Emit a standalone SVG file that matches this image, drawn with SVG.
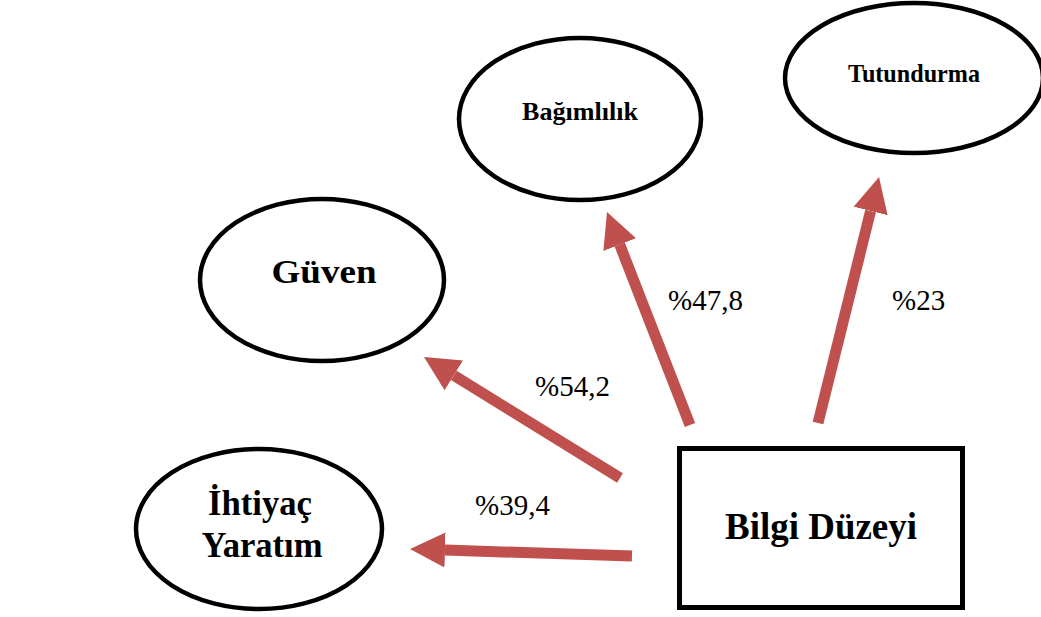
<svg xmlns="http://www.w3.org/2000/svg" width="1041" height="617" viewBox="0 0 1041 617">
<style>
.node{fill:none;stroke:#000;stroke-width:4.5}
.lbl{font-family:"Liberation Serif","Times New Roman","DejaVu Serif",serif;font-weight:bold;fill:#000;text-anchor:middle}
.pct{font-family:"Liberation Serif","Times New Roman","DejaVu Serif",serif;font-size:29px;fill:#000}
.arrow{stroke:#C0504D;stroke-width:11;fill:none;stroke-linecap:butt;marker-end:url(#head)}
</style>
<defs>
<marker id="head" markerUnits="userSpaceOnUse" viewBox="0 -18 36 36" markerWidth="36" markerHeight="36" refX="0" refY="0" orient="auto">
<path d="M0,-17.5 L35,0 L0,17.5 z" fill="#C0504D"/>
</marker>
</defs>
<rect width="1041" height="617" fill="#fff"/>
<g id="connectors">
<line class="arrow" x1="620" y1="478" x2="453.8" y2="375.4"/>
<line class="arrow" x1="632" y1="556" x2="445" y2="550.1"/>
<line class="arrow" x1="690" y1="425" x2="619.7" y2="244.6"/>
<line class="arrow" x1="818" y1="423" x2="870.6" y2="211"/>
<text class="pct" x="668" y="310">%47,8</text>
<text class="pct" x="892" y="310">%23</text>
<text class="pct" x="535" y="396">%54,2</text>
<text class="pct" x="475" y="515">%39,4</text>
</g>
<g id="bagimlilik">
<ellipse class="node" cx="580" cy="119" rx="121" ry="81"/>
<text class="lbl" x="580" y="120" font-size="26" textLength="116" lengthAdjust="spacingAndGlyphs">Bağımlılık</text>
</g>
<g id="tutundurma">
<ellipse class="node" cx="914" cy="78" rx="129" ry="75"/>
<text class="lbl" x="914" y="82" font-size="25" textLength="132" lengthAdjust="spacingAndGlyphs">Tutundurma</text>
</g>
<g id="guven">
<ellipse class="node" cx="322" cy="280" rx="122" ry="81"/>
<text class="lbl" x="324" y="283" font-size="33" textLength="105" lengthAdjust="spacingAndGlyphs">Güven</text>
</g>
<g id="ihtiyac">
<ellipse class="node" cx="259" cy="529" rx="123" ry="80"/>
<text class="lbl" x="260" y="515" font-size="36" textLength="104" lengthAdjust="spacingAndGlyphs">İhtiyaç</text>
<text class="lbl" x="262" y="557" font-size="36" textLength="121" lengthAdjust="spacingAndGlyphs">Yaratım</text>
</g>
<g id="bilgi">
<rect x="679.5" y="448.5" width="283" height="159" fill="none" stroke="#000" stroke-width="5"/>
<text class="lbl" x="821" y="539" font-size="38" textLength="192" lengthAdjust="spacingAndGlyphs">Bilgi Düzeyi</text>
</g>
</svg>
